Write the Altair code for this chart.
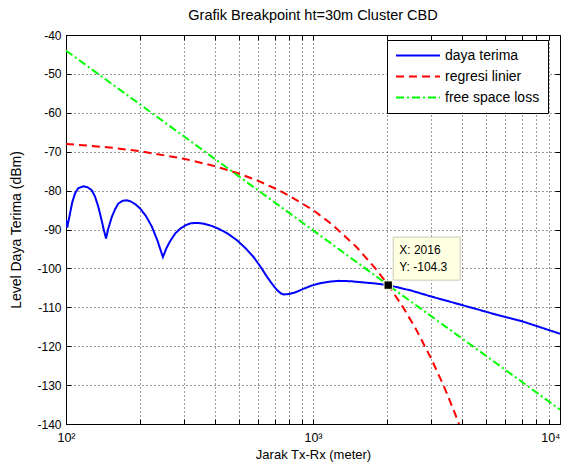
import altair as alt
import pandas as pd

# ---------------- data ----------------
chart_title = "Grafik Breakpoint ht=30m Cluster CBD"
x_title = "Jarak Tx-Rx (meter)"
y_title = "Level Daya Terima (dBm)"

series_names = ["daya terima", "regresi linier", "free space loss"]
series_colors = ["#0000FF", "#FF0000", "#00FF00"]
series_dashes = [[1, 0], [8, 5], [8, 3, 2, 3]]

daya_x = [100, 100.6, 101.2, 102.2, 103.8, 106, 108.8, 112, 117.5, 122, 127.1, 131,
          135.2, 139, 142.5, 145.3, 148, 153.2, 158, 163, 170, 176, 183, 191, 199.6,
          211, 222.8, 235, 246.8, 255, 264, 277, 290, 305, 320, 339, 360, 390, 421,
          455, 493, 535, 575, 615, 652, 685, 716, 740, 761, 795, 836, 875, 918, 990,
          1072, 1170, 1273, 1420, 1600, 1800, 2016, 2500, 2998, 3700, 4560, 5600,
          6950, 8300, 10000]
daya_y = [-87.4, -88.5, -89.5, -88.0, -85.9, -83.0, -80.7, -79.4, -78.9, -79.1, -79.9,
          -81.5, -84.2, -87.3, -90.3, -92.3, -90.0, -86.8, -84.8, -83.3, -82.6, -82.5,
          -82.8, -83.5, -84.6, -86.6, -89.3, -93.0, -97.1, -94.8, -93.0, -91.0, -89.8,
          -88.9, -88.4, -88.3, -88.5, -89.1, -90.0, -91.2, -92.8, -94.9, -97.1, -99.7,
          -102.2, -104.1, -105.6, -106.4, -106.7, -106.6, -106.3, -105.8, -105.2,
          -104.4, -103.8, -103.4, -103.2, -103.3, -103.6, -103.9, -104.3, -105.7,
          -107.2, -108.8, -110.4, -112.0, -113.5, -115.1, -116.8]

regresi_x = [100, 150, 200, 300, 400, 500, 600, 700, 800, 1000, 1200, 1500, 1800,
             2016, 2300, 2600, 3000, 3400, 3800, 3900]
regresi_y = [-68.0, -68.9, -69.9, -71.8, -73.7, -75.6, -77.5, -79.4, -81.3, -85.0,
             -88.8, -94.5, -100.2, -104.3, -109.7, -115.4, -123.0, -130.5, -138.1, -140.0]

fsl_x = [100, 200, 500, 1000, 2016, 5000, 10000]
fsl_y = [-44.0, -57.9, -76.3, -90.2, -104.3, -122.4, -136.3]

tip_x = 2016
tip_y = -104.3

x_ticks = [100, 200, 300, 400, 500, 600, 700, 800, 900,
           1000, 2000, 3000, 4000, 5000, 6000, 7000, 8000, 9000, 10000]
x_tick_labels = {100: "10²", 1000: "10³", 10000: "10⁴"}
y_ticks = [-140, -130, -120, -110, -100, -90, -80, -70, -60, -50, -40]

FONT = "Liberation Sans"

# ---------------- tables ----------------
rows = []
for name, xs, ys in zip(series_names, [daya_x, regresi_x, fsl_x], [daya_y, regresi_y, fsl_y]):
    for xv, yv in zip(xs, ys):
        rows.append({"x": xv, "y": yv, "series": name})
df = pd.DataFrame(rows)

tip_df = pd.DataFrame({"x": [tip_x], "y": [tip_y],
                       "lx": [f"X: {tip_x}"], "ly": [f"Y: {tip_y}"]})

label_expr = "".join(f"datum.value == {k} ? '{v}' : " for k, v in x_tick_labels.items()) + "''"

xscale = alt.Scale(type="log", domain=[100, 10000], nice=False)
yscale = alt.Scale(domain=[-140, -40], nice=False)

legend = alt.Legend(
    title=None, orient="none", legendX=321, legendY=5,
    fillColor="white", strokeColor="black", padding=8,
    symbolType="stroke", symbolSize=1936, symbolStrokeWidth=2,
    labelFont=FONT, labelFontSize=14, labelColor="black", labelOffset=4,
    rowPadding=6, clipHeight=15,
)

x_axis_main = alt.Axis(
    orient="bottom", values=x_ticks, labelExpr=label_expr, offset=-5, tickSize=5,
    tickColor="black", domain=False, grid=True, gridColor="black", gridDash=[1, 3],
    gridOpacity=0.8, labelFlush=False, labelOverlap=False, labelPadding=7,
    labelAlign={"condition": {"test": f"datum.value == {max(x_ticks)}", "value": "right"},
                "value": "center"},
    labelFont=FONT, labelFontSize=12.5, labelColor="black",
    title=x_title, titleFont=FONT, titleFontSize=13, titleFontWeight="normal",
    titleColor="black", titlePadding=5,
)
y_axis_main = alt.Axis(
    orient="left", values=y_ticks, labelExpr="'' + datum.value", offset=-5, tickSize=5,
    tickColor="black", domain=False, grid=True, gridColor="black", gridDash=[1, 3],
    gridOpacity=0.8, labelPadding=5, labelFont=FONT, labelFontSize=12,
    labelColor="black", labelOverlap=False, labelFlush=False,
    title=y_title, titleFont=FONT, titleFontSize=14, titleFontWeight="normal",
    titleColor="black", titlePadding=13,
)
x_axis_top = alt.Axis(orient="top", values=x_ticks, offset=-5, tickSize=5,
                      tickColor="black", domain=False, grid=False, labels=False, title=None)
y_axis_right = alt.Axis(orient="right", values=y_ticks, offset=-5, tickSize=5,
                        tickColor="black", domain=False, grid=False, labels=False, title=None)

lines = alt.Chart(df).mark_line(strokeWidth=2, clip=True).encode(
    x=alt.X("x:Q", scale=xscale, axis=x_axis_main),
    y=alt.Y("y:Q", scale=yscale, axis=y_axis_main),
    color=alt.Color("series:N", scale=alt.Scale(domain=series_names, range=series_colors),
                    legend=legend),
    strokeDash=alt.StrokeDash("series:N",
                              scale=alt.Scale(domain=series_names, range=series_dashes),
                              legend=legend),
)

frame_ticks = alt.Chart(tip_df).mark_point(opacity=0).encode(
    x=alt.X("x:Q", scale=xscale, axis=x_axis_top),
    y=alt.Y("y:Q", scale=yscale, axis=y_axis_right),
)

tip_box = alt.Chart(tip_df).mark_rect(
    xOffset=5, x2Offset=72, yOffset=-48, y2Offset=-5,
    fill="#FFFFE1", stroke="#C8C8B4", strokeWidth=1,
).encode(
    x=alt.X("x:Q", scale=xscale, axis=None), x2="x:Q",
    y=alt.Y("y:Q", scale=yscale, axis=None), y2="y:Q",
)

tip_marker = alt.Chart(tip_df).mark_square(
    size=70, filled=True, color="black", stroke="#FFFFE1", strokeWidth=1, opacity=1,
).encode(
    x=alt.X("x:Q", scale=xscale, axis=None),
    y=alt.Y("y:Q", scale=yscale, axis=None),
)

tip_text_x = alt.Chart(tip_df).mark_text(
    align="left", baseline="middle", dx=11, dy=-35, font=FONT, fontSize=12, color="black",
).encode(
    x=alt.X("x:Q", scale=xscale, axis=None),
    y=alt.Y("y:Q", scale=yscale, axis=None),
    text="lx:N",
)
tip_text_y = alt.Chart(tip_df).mark_text(
    align="left", baseline="middle", dx=11, dy=-18, font=FONT, fontSize=12, color="black",
).encode(
    x=alt.X("x:Q", scale=xscale, axis=None),
    y=alt.Y("y:Q", scale=yscale, axis=None),
    text="ly:N",
)

chart = alt.layer(
    lines, frame_ticks, tip_box, tip_marker, tip_text_x, tip_text_y
).resolve_axis(x="independent", y="independent").resolve_scale(
    x="shared", y="shared"
).properties(
    width=494, height=389,
    title=alt.TitleParams(chart_title, font=FONT, fontSize=14.5, fontWeight="normal",
                          color="black", anchor="middle", offset=6),
    autosize=alt.AutoSizeParams(type="none"),
    padding={"left": 58, "top": 27, "right": 3, "bottom": 40},
    background="white",
).configure_view(stroke="black", strokeWidth=1)

chart.save("out.html", embed_options={"renderer": "svg", "actions": False})
